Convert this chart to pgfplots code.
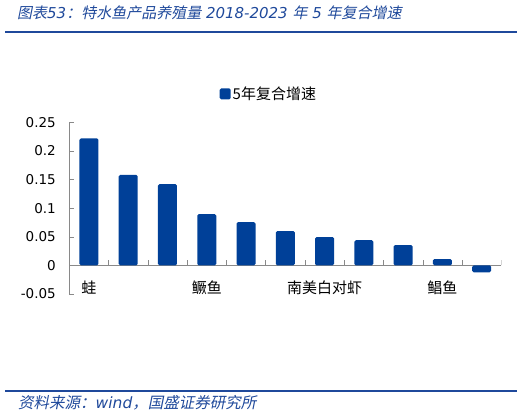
\documentclass[border=0pt]{standalone}
\usepackage{pgfplots}
\pgfplotsset{compat=1.18}
\usepackage{fontspec}
\setmainfont{DejaVu Sans}
\newfontfamily\cjk{Noto Sans CJK SC}
\newfontfamily\cjkit[FakeSlant=0.2]{Noto Sans CJK SC}

\definecolor{barblue}{RGB}{0,64,152}
\definecolor{titleblue}{RGB}{31,73,155}
\definecolor{axgray}{RGB}{137,137,137}

\begin{document}
\begin{tikzpicture}[x=1pt,y=1pt]
\useasboundingbox (0,0) rectangle (525,416);
% title and rules
\node[anchor=west, inner sep=0, text=titleblue, font=\fontsize{15}{18}\selectfont] at (17,403)
  {{\cjkit 图表}{\itshape 53}{\cjkit ：特水鱼产品养殖量}{\itshape\ 2018-2023\ }{\cjkit 年}{\itshape\ 5\ }{\cjkit 年复合增速}};
\fill[titleblue] (5,383) rectangle (517,385);
\fill[titleblue] (5,24) rectangle (517,26);
\node[anchor=west, inner sep=0, text=titleblue, font=\fontsize{15.5}{18}\selectfont] at (18,13)
  {{\cjkit 资料来源：}{\itshape wind}{\cjkit ，国盛证券研究所}};

\begin{axis}[
  at={(69.3pt,122pt)}, anchor=south west,
  scale only axis, width=432pt, height=171.7pt,
  xmin=-0.5, xmax=10.5, ymin=-0.05, ymax=0.25,
  axis y line*=left, axis x line*=bottom,
  x axis line style={draw=none},
  y axis line style={-, draw=axgray},
  ytick={-0.05,0,0.05,0.1,0.15,0.2,0.25},
  yticklabels={-0.05,0,0.05,0.1,0.15,0.2,0.25},
  xtick={0,...,10},
  xticklabels={蛙,,,鳜鱼,,,南美白对虾,,,鲳鱼,},
  tick align=inside, major tick length=5pt,
  ytick style={draw=axgray},
  xtick style={draw=none},
  yticklabel style={font=\fontsize{13.5}{16}\selectfont, xshift=-10pt},
  xticklabel style={font=\cjk\fontsize{15}{18}\selectfont, anchor=center, yshift=11pt},
  ybar, bar width=19pt,
  legend style={at={(0.462,1.165)}, anchor=center, draw=none, fill=none,
    font=\cjk\fontsize{15}{18}\selectfont},
  legend image code/.code={\fill[barblue] (0pt,-5.5pt) rectangle (11pt,5.5pt);},
]
\draw[axgray] (axis cs:-0.5,0) -- (axis cs:10.5,0);
\pgfplotsinvokeforeach{0.5,1.5,2.5,3.5,4.5,5.5,6.5,7.5,8.5,9.5,10.5}{
  \draw[axgray] (axis cs:#1,0) -- ++(0pt,5pt);
}
\addplot[fill=barblue, draw=none, rounded corners=1.5pt] coordinates {
  (0,0.222) (1,0.158) (2,0.142) (3,0.0897) (4,0.0757) (5,0.060)
  (6,0.0495) (7,0.044) (8,0.0355) (9,0.011) (10,-0.012)
};
\addlegendentry{5年复合增速}
\end{axis}
\end{tikzpicture}
\end{document}
